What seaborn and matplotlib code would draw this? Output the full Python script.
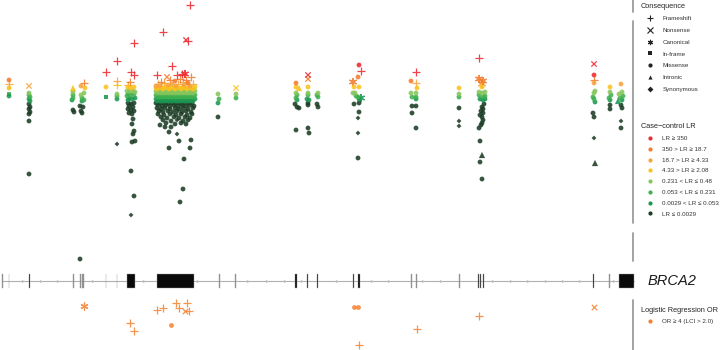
import matplotlib
matplotlib.use("Agg")
import matplotlib.pyplot as plt
import numpy as np
import pandas as pd
import seaborn as sns
from matplotlib.lines import Line2D

sns.set_theme(style="white")
plt.rcParams["font.family"] = ["Liberation Sans", "DejaVu Sans"]

# ---------------------------------------------------------------- data
LR_CLASSES = ["LR \u2265 350", "350 > LR \u2265 18.7", "18.7 > LR \u2265 4.33", "4.33 > LR \u2265 2.08",
              "0.231 < LR \u2264 0.48", "0.053 < LR \u2264 0.231", "0.0029 < LR \u2264 0.053", "LR \u2264 0.0029"]
CONSEQUENCES = ["Frameshift", "Nonsense", "Canonical", "In-frame", "Missense", "Intronic", "Synonymous"]
CONS_CODE = {"F": "Frameshift", "N": "Nonsense", "C": "Canonical", "I": "In-frame",
             "M": "Missense", "T": "Intronic", "S": "Synonymous"}

# (position, display score, consequence code) ; score grows downward (low LR)
lr_ge_350 = [(106, 72, "F"), (117, 61, "F"), (134, 43, "F"), (131, 72, "F"), (134, 75, "F"),
             (163, 32, "F"), (190, 5, "F"), (186, 40, "N"), (188, 41, "F"), (172, 66, "F"),
             (157, 75, "F"), (177, 75, "F"), (182, 74, "F"), (185, 74, "C"),
             (308, 75, "N"), (359, 65, "M"), (361, 71, "F"), (416, 72, "F"), (479, 58, "F"),
             (594, 64, "N"), (594, 75, "M")]
lr_350_18 = [(9, 80, "M"), (84, 83, "F"), (130, 82, "F"),
             (167, 77, "N"), (191, 77, "F"), (170, 80, "F"), (180, 79, "F"), (186, 80, "F"),
             (161, 82, "F"), (175, 81, "M"), (188, 83, "M"),
             (296, 83, "M"), (308, 79, "N"), (358, 77, "M"), (353, 82, "C"), (411, 81, "M"),
             (479, 79, "C"), (483, 81, "C"), (594, 80, "F")]
lr_18_4 = [(9, 84, "F"), (29, 86, "N"), (81, 86, "M"), (117, 81, "F"), (128, 85, "F"),
           (158, 84, "F"), (164, 83, "F"), (172, 84, "M"), (178, 84, "F"), (183, 82, "F"),
           (193, 84, "F"), (168, 85, "M"), (190, 86, "M"), (156, 86, "M"), (160, 86, "M"),
           (176, 86, "M"), (184, 85, "M"),
           (416, 83, "F"), (482, 84, "C"), (594, 83, "M"), (621, 84, "M")]
lr_4_2 = [(9, 88, "M"), (73, 88, "T"), (85, 88, "M"), (106, 87, "M"), (117, 85, "F"),
          (128, 87, "M"), (131, 88, "M"), (134, 87, "M"),
          (156, 88, "M"), (159, 87, "M"), (162, 88, "M"), (165, 87, "M"), (168, 88, "M"),
          (171, 87, "M"), (174, 88, "M"), (177, 87, "M"), (180, 88, "M"), (183, 87, "M"),
          (186, 88, "M"), (189, 87, "M"), (192, 88, "M"), (195, 87, "M"),
          (157, 89, "M"), (163, 89, "M"), (169, 89, "M"), (175, 89, "M"), (181, 89, "M"),
          (187, 89, "M"), (193, 89, "M"),
          (236, 88, "N"), (296, 87, "M"), (299, 88, "T"), (308, 87, "M"), (354, 87, "M"),
          (359, 87, "M"), (417, 88, "M"), (459, 88, "M"), (482, 87, "M"), (610, 87, "M")]
lr_023_048 = [(29, 93, "M"), (73, 92, "M"), (84, 93, "M"), (81, 95, "M"), (117, 94, "M"),
              (127, 91, "M"), (130, 91, "M"), (133, 91, "M"), (135, 92, "M"),
              (156, 91, "M"), (159, 91, "M"), (162, 91, "M"), (165, 91, "M"), (168, 91, "M"),
              (171, 91, "M"), (174, 91, "M"), (177, 91, "M"), (180, 91, "M"), (183, 91, "M"),
              (186, 91, "M"), (189, 91, "M"), (192, 91, "M"), (195, 91, "M"),
              (157, 93, "M"), (160, 93, "M"), (163, 93, "M"), (166, 93, "M"), (169, 93, "M"),
              (172, 93, "M"), (175, 93, "M"), (178, 93, "M"), (181, 93, "M"), (184, 93, "M"),
              (187, 93, "M"), (190, 93, "M"), (193, 93, "M"),
              (218, 94, "M"), (236, 94, "M"), (296, 93, "M"), (308, 93, "M"), (318, 93, "M"),
              (353, 93, "M"), (355, 93, "M"), (411, 93, "M"), (416, 93, "M"), (459, 94, "M"),
              (479, 92, "M"), (482, 93, "M"), (485, 92, "M"), (595, 91, "M"), (594, 93, "M"),
              (610, 92, "M"), (622, 92, "M"), (619, 94, "M")]
lr_005_023 = [(9, 94, "I"), (29, 95, "M"), (30, 97, "M"), (73, 95, "M"), (73, 98, "M"),
              (82, 98, "M"), (84, 100, "M"), (117, 96, "M"),
              (128, 94, "M"), (131, 95, "M"), (134, 94, "M"), (127, 96, "M"),
              (156, 95, "M"), (159, 95, "M"), (162, 95, "M"), (165, 95, "M"), (168, 95, "M"),
              (171, 95, "M"), (174, 95, "M"), (177, 95, "M"), (180, 95, "M"), (183, 95, "M"),
              (186, 95, "M"), (189, 95, "M"), (192, 95, "M"), (195, 95, "M"),
              (157, 97, "M"), (160, 97, "M"), (163, 97, "M"), (166, 97, "M"), (169, 97, "M"),
              (172, 97, "M"), (175, 97, "M"), (178, 97, "M"), (181, 97, "M"), (184, 97, "M"),
              (187, 97, "M"), (190, 97, "M"), (193, 97, "M"),
              (219, 99, "M"), (236, 98, "M"), (297, 95, "M"), (296, 98, "M"), (308, 95, "M"),
              (317, 95, "M"), (318, 97, "M"), (358, 97, "M"), (356, 96, "M"), (412, 97, "M"),
              (416, 97, "M"), (459, 97, "M"), (479, 95, "M"), (483, 97, "M"), (485, 96, "M"),
              (593, 97, "M"), (594, 99, "M"), (611, 95, "M"), (609, 98, "M"), (623, 96, "M"),
              (620, 98, "M")]
lr_0003_005 = [(9, 96, "M"), (29, 99, "M"), (30, 101, "M"), (72, 100, "M"), (82, 101, "M"),
               (106, 97, "I"), (117, 99, "M"),
               (129, 98, "M"), (132, 99, "M"), (135, 98, "M"), (128, 100, "M"),
               (156, 99, "M"), (159, 99, "M"), (162, 99, "M"), (165, 99, "M"), (168, 99, "M"),
               (171, 99, "M"), (174, 99, "M"), (177, 99, "M"), (180, 99, "M"), (183, 99, "M"),
               (186, 99, "M"), (189, 99, "M"), (192, 99, "M"), (195, 99, "M"),
               (157, 101, "M"), (160, 101, "M"), (163, 101, "M"), (166, 101, "M"), (169, 101, "M"),
               (172, 101, "M"), (175, 101, "M"), (178, 101, "M"), (181, 101, "M"), (184, 101, "M"),
               (187, 101, "M"), (190, 101, "M"), (193, 101, "M"),
               (218, 103, "M"), (297, 100, "M"), (307, 99, "M"), (309, 100, "M"), (359, 99, "M"),
               (361, 98, "C"), (416, 99, "M"), (480, 99, "M"), (483, 100, "M"), (485, 99, "M"),
               (595, 102, "M"), (610, 100, "M"), (622, 100, "M"), (618, 101, "T")]
lr_le_0003 = [(29, 104, "M"), (30, 107, "M"), (29, 109, "M"), (30, 112, "M"), (29, 114, "M"),
              (29, 121, "M"), (29, 174, "M"),
              (73, 110, "M"), (74, 112, "M"), (80, 106, "M"), (83, 107, "M"), (81, 111, "M"),
              (82, 113, "M"), (80, 259, "M"), (117, 144, "S"),
              (128, 103, "M"), (131, 104, "M"), (134, 103, "M"), (129, 106, "M"), (133, 107, "M"),
              (128, 109, "M"), (131, 110, "M"), (134, 111, "M"), (129, 113, "M"), (132, 114, "M"),
              (133, 119, "M"), (132, 124, "M"), (134, 131, "M"), (133, 134, "M"), (135, 141, "M"),
              (132, 142, "M"), (131, 171, "M"), (134, 196, "M"), (131, 215, "S"),
              (156, 103, "M"), (160, 103, "M"), (164, 103, "M"), (168, 103, "M"), (172, 103, "M"),
              (176, 103, "M"), (180, 103, "M"), (184, 103, "M"), (188, 103, "M"), (192, 103, "M"),
              (158, 105, "M"), (162, 106, "M"), (166, 105, "M"), (170, 106, "M"), (174, 105, "M"),
              (178, 106, "M"), (182, 105, "M"), (186, 106, "M"), (190, 105, "M"), (194, 106, "M"),
              (157, 108, "M"), (161, 109, "M"), (165, 108, "M"), (170, 109, "M"), (175, 108, "M"),
              (179, 109, "M"), (183, 108, "M"), (188, 109, "M"), (193, 108, "M"),
              (159, 111, "M"), (163, 112, "M"), (168, 111, "M"), (173, 112, "M"), (177, 111, "M"),
              (182, 112, "M"), (186, 111, "M"), (191, 112, "M"),
              (158, 114, "M"), (164, 115, "M"), (170, 114, "M"), (176, 115, "M"), (181, 114, "M"),
              (187, 115, "M"), (192, 114, "M"),
              (161, 117, "M"), (167, 118, "M"), (174, 117, "M"), (179, 118, "M"), (185, 117, "M"),
              (190, 118, "M"), (163, 120, "M"), (171, 121, "M"), (177, 120, "S"), (183, 121, "M"),
              (188, 120, "M"), (166, 123, "M"), (175, 124, "M"), (181, 123, "M"), (186, 124, "M"),
              (160, 125, "M"), (165, 127, "M"), (171, 127, "M"), (169, 132, "M"), (177, 134, "S"),
              (179, 141, "M"), (191, 140, "M"), (169, 148, "M"), (190, 148, "M"), (184, 159, "M"),
              (183, 189, "M"), (180, 202, "M"),
              (218, 117, "M"),
              (295, 104, "M"), (297, 107, "M"), (299, 108, "M"), (296, 130, "M"),
              (308, 103, "M"), (308, 105, "M"), (308, 128, "M"), (309, 133, "M"),
              (317, 104, "M"), (318, 107, "M"),
              (354, 104, "M"), (359, 103, "M"), (359, 112, "M"), (358, 118, "S"), (358, 133, "S"),
              (358, 158, "M"),
              (412, 106, "M"), (416, 106, "M"), (412, 113, "M"), (416, 128, "M"),
              (459, 108, "M"), (459, 121, "S"), (459, 126, "S"),
              (484, 104, "M"), (482, 107, "M"), (483, 109, "M"), (481, 111, "M"), (483, 113, "M"),
              (480, 115, "M"), (482, 117, "M"), (483, 120, "M"), (482, 123, "M"), (481, 125, "M"),
              (479, 128, "M"), (480, 141, "M"), (482, 155, "T"), (480, 162, "M"), (482, 179, "M"),
              (593, 113, "M"), (594, 117, "M"), (594, 138, "S"), (595, 163, "T"),
              (610, 105, "M"), (610, 109, "M"),
              (621, 105, "M"), (622, 108, "M"), (621, 121, "S"), (621, 128, "M")]

# logistic regression OR >= 4 panel (position, display score, consequence)
or_hits = [(84, 306, "C"), (130, 323, "F"), (134, 331, "F"), (157, 310, "F"), (163, 308, "F"),
           (176, 303, "F"), (187, 303, "F"), (179, 308, "F"), (185, 311, "N"), (189, 311, "F"),
           (171, 325, "M"), (354, 307, "M"), (358, 307, "M"), (359, 345, "F"), (417, 329, "F"),
           (479, 316, "F"), (594, 307, "N")]

# BRCA2 exons (start, end) and strand arrows
exon_start = [2.0, 8.6, 29.0, 73.2, 80.0, 81.7, 83.3, 105.6, 116.6, 127.3, 157.0, 218.7, 235.3,
              295.4, 307.0, 317.0, 352.9, 358.2, 411.4, 415.7, 458.8, 477.8, 480.3, 482.8,
              592.8, 608.9, 619.3]
exon_end = [2.8, 9.4, 30.2, 74.0, 80.8, 82.5, 84.1, 106.4, 117.4, 135.3, 193.5, 219.5, 236.1,
            296.6, 308.1, 318.1, 354.1, 359.6, 412.2, 416.7, 459.6, 478.9, 481.4, 483.9,
            594.0, 609.7, 634.0]
gene_span = [2, 634]
arrow_pos = [23, 41, 58, 93, 144, 198, 248, 267, 285, 302, 337, 372, 389, 423, 441, 493, 511,
             528, 546, 563, 580, 614]

# ---------------------------------------------------------------- frame
LR_COLORS = ["#ec2a30", "#f37b2c", "#f7a33c", "#f9c21d", "#86c55b", "#3fb04e", "#1a9850", "#1b3c24"]
OR_COLOR = "#f5822f"
MARKERS = {"Frameshift": ("+", 30, 0.9), "Nonsense": ("x", 15, 0.9),
           "Canonical": ((6, 2, 0), 26, 0.9), "In-frame": ("s", 11, 0),
           "Missense": ("o", 12, 0), "Intronic": ("^", 20, 0), "Synonymous": ("D", 6, 0)}

rows = []
for cls, pts in zip(LR_CLASSES, [lr_ge_350, lr_350_18, lr_18_4, lr_4_2, lr_023_048,
                                 lr_005_023, lr_0003_005, lr_le_0003]):
    for p, sc, c in pts:
        rows.append((p, sc, CONS_CODE[c], cls))
df = pd.DataFrame(rows, columns=["pos", "score", "consequence", "lr_class"])
df_or = pd.DataFrame([(p, sc, CONS_CODE[c]) for p, sc, c in or_hits],
                     columns=["pos", "score", "consequence"])

W, H = 720, 350
fig = plt.figure(figsize=(W / 100, H / 100), dpi=100)
XMAX = 636
ax = fig.add_axes([0, 1 - 264 / H, XMAX / W, 264 / H])
gax = fig.add_axes([0, 1 - 294 / H, XMAX / W, 26 / H])
oax = fig.add_axes([0, 0, XMAX / W, 54 / H])

# main panel (draw low classes first so high LR on top)
for cons in CONSEQUENCES:
    sub = df[df.consequence == cons]
    if sub.empty:
        continue
    mk, size, lw = MARKERS[cons]
    kw = dict(linewidth=lw, edgecolor="face") if lw else dict(linewidth=0)
    sub = sub.iloc[::-1]
    sns.scatterplot(data=sub, x="pos", y="score", hue="lr_class", hue_order=LR_CLASSES,
                    palette=LR_COLORS, marker=mk, s=size, alpha=0.88, legend=False, ax=ax, **kw)
ax.set_xlim(0, XMAX)
ax.set_ylim(264, 0)
ax.set_axis_off()

# gene model
gax.plot(gene_span, [0, 0], color="#b0b0b0", lw=0.8, zorder=1)
gax.scatter(arrow_pos, np.zeros(len(arrow_pos)), marker=">", s=5, color="#bcbcbc", linewidths=0, zorder=1)
widths = np.array(exon_end) - np.array(exon_start)
ecol = ["#0a0a0a" if w >= 1.05 else "#8a8a8a" for w in widths]
gax.bar(exon_start, 2.0, width=widths, bottom=-1.0, align="edge", color=ecol,
        edgecolor="#9a9a9a", linewidth=0.3, zorder=2)
gax.set_xlim(0, XMAX)
gax.set_ylim(-1.9, 1.9)
gax.set_axis_off()

# OR panel
for cons in CONSEQUENCES:
    sub = df_or[df_or.consequence == cons]
    if sub.empty:
        continue
    mk, size, lw = MARKERS[cons]
    kw = dict(linewidth=lw, edgecolor="face") if lw else dict(linewidth=0)
    sns.scatterplot(data=sub, x="pos", y="score", color=OR_COLOR, marker=mk, s=size,
                    alpha=0.85, legend=False, ax=oax, **kw)
oax.set_xlim(0, XMAX)
oax.set_ylim(350, 296)
oax.set_axis_off()

# ---------------------------------------------------------------- legends
txt = "#333333"
cons_handles = [Line2D([], [], linestyle="None", marker=MARKERS[c][0], color="#222222",
                       markersize=3.8 if MARKERS[c][2] else 3.0, markeredgewidth=0.8 if MARKERS[c][2] else 0,
                       label=c) for c in CONSEQUENCES]
lr_handles = [Line2D([], [], linestyle="None", marker="o", color=col, markersize=3.0,
                     markeredgewidth=0, label=lab) for lab, col in zip(LR_CLASSES, LR_COLORS)]
or_handles = [Line2D([], [], linestyle="None", marker="o", color=OR_COLOR, markersize=3.0,
                     markeredgewidth=0, label="OR \u2265 4 (LCI > 2.0)")]

common = dict(loc="upper left", frameon=False, fontsize=4.5, title_fontsize=5.3,
              alignment="left", borderpad=0, borderaxespad=0, handlelength=2.9,
              handletextpad=0.5, labelcolor=txt)
fig.legend(handles=cons_handles, title="Consequence", bbox_to_anchor=(641 / W, 1 - 2.5 / H),
           labelspacing=1.02, **common)
fig.legend(handles=lr_handles, title="Case\u2212control LR", bbox_to_anchor=(641 / W, 1 - 123.5 / H),
           labelspacing=0.86, **common)
fig.legend(handles=or_handles, title="Logistic Regression OR", bbox_to_anchor=(641 / W, 1 - 306.5 / H),
           labelspacing=0.9, **common)

fig.text(648 / W, 1 - 281 / H, "BRCA2", style="italic", fontsize=10.5, va="center", ha="left",
         color="#1a1a1a")

for y0, y1 in [(0, 12), (21, 223), (233, 261), (300, 350)]:
    fig.add_artist(Line2D([633 / W, 633 / W], [1 - y0 / H, 1 - y1 / H], color="#9c9c9c", lw=1.3,
                          transform=fig.transFigure))

fig.savefig("out.png", dpi=100)
